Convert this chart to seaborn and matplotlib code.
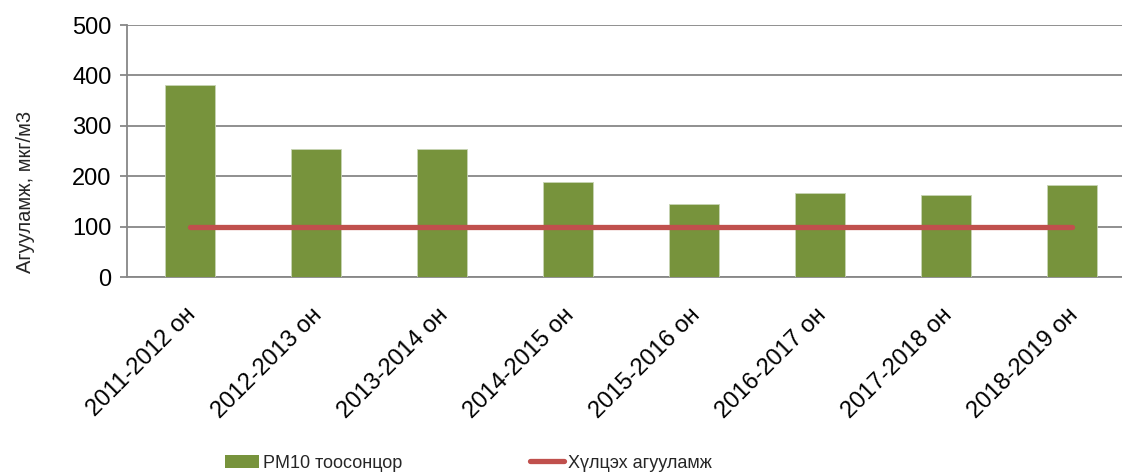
import numpy as np
import pandas as pd
import matplotlib
matplotlib.use("Agg")
import matplotlib.pyplot as plt
import matplotlib.transforms as mtransforms
import seaborn as sns
from matplotlib.patches import Patch
from matplotlib.lines import Line2D

# Winter seasons and measured PM10 concentrations (мкг/м3)
seasons = ["2011-2012 он", "2012-2013 он", "2013-2014 он", "2014-2015 он",
           "2015-2016 он", "2016-2017 он", "2017-2018 он", "2018-2019 он"]
pm10 = [381, 255, 255, 188, 145, 168, 163, 183]
limit = [100, 100, 100, 100, 100, 100, 100, 100]
yticks = [0, 100, 200, 300, 400, 500]

bar_color = "#77933C"
line_color = "#C0504D"
grid_color = "#878787"

sns.set_theme(style="white")
plt.rcParams["font.family"] = ["Liberation Sans", "DejaVu Sans"]

W, H = 1122, 474
fig = plt.figure(figsize=(W / 100, H / 100), dpi=100)
ax_left, ax_bottom, ax_top = 127, 277.3, 25
ax = fig.add_axes([ax_left / W, 1 - ax_bottom / H, 1 - ax_left / W,
                   (ax_bottom - ax_top) / H])

df = pd.DataFrame({"season": seasons, "pm10": pm10, "limit": limit})
sns.barplot(data=df, x="season", y="pm10", color=bar_color, saturation=1,
            width=0.4, edgecolor="#c8d4b4", linewidth=0.6, ax=ax, zorder=3)
sns.lineplot(x=np.arange(len(seasons)), y=df["limit"], color=line_color,
             linewidth=3.8, ax=ax, zorder=4)
for ln in ax.lines:
    ln.set_solid_capstyle("round")

ax.set_ylim(0, 500)
ax.set_yticks(yticks)
ax.set_xlim(-0.5, (W - ax_left) / 126 - 0.5)
ax.yaxis.grid(True, color=grid_color, linewidth=1.3, zorder=0)
ax.set_axisbelow(True)

for side in ["top", "right"]:
    ax.spines[side].set_visible(False)
for side in ["left", "bottom"]:
    ax.spines[side].set_color(grid_color)
    ax.spines[side].set_linewidth(1.3)

ax.tick_params(axis="y", which="both", left=True, length=5, width=1.3,
               color=grid_color, labelsize=17, pad=6, labelcolor="black")
ax.tick_params(axis="x", bottom=False, labelsize=17, pad=13, labelcolor="black")
shift = mtransforms.ScaledTranslation(-5 / 100, 0, fig.dpi_scale_trans)
for lbl in ax.get_xticklabels():
    lbl.set_rotation(45)
    lbl.set_ha("right")
    lbl.set_rotation_mode("anchor")
    lbl.set_transform(lbl.get_transform() + shift)

ax.set_xlabel("")
ax.set_ylabel("Агууламж, мкг/м3", fontsize=14.5)
ax.yaxis.set_label_coords((35 - ax_left) / (W - ax_left),
                          (ax_bottom - 192) / (ax_bottom - ax_top))

fs_leg = 13
px_per_em = fs_leg * 100 / 72
handles = [Patch(facecolor=bar_color, edgecolor="none"),
           Line2D([0], [0], color=line_color, linewidth=3.8, solid_capstyle="round")]
fig.legend(handles, ["PM10 тоосонцор", "Хүлцэх агууламж"], loc="center left",
           bbox_to_anchor=(225 / W, 1 - 463 / H), ncol=2, frameon=False,
           fontsize=fs_leg, handlelength=34 / px_per_em, handleheight=0.7,
           handletextpad=4 / px_per_em, columnspacing=128 / px_per_em,
           borderpad=0, borderaxespad=0)

fig.savefig("out.png", dpi=100)
